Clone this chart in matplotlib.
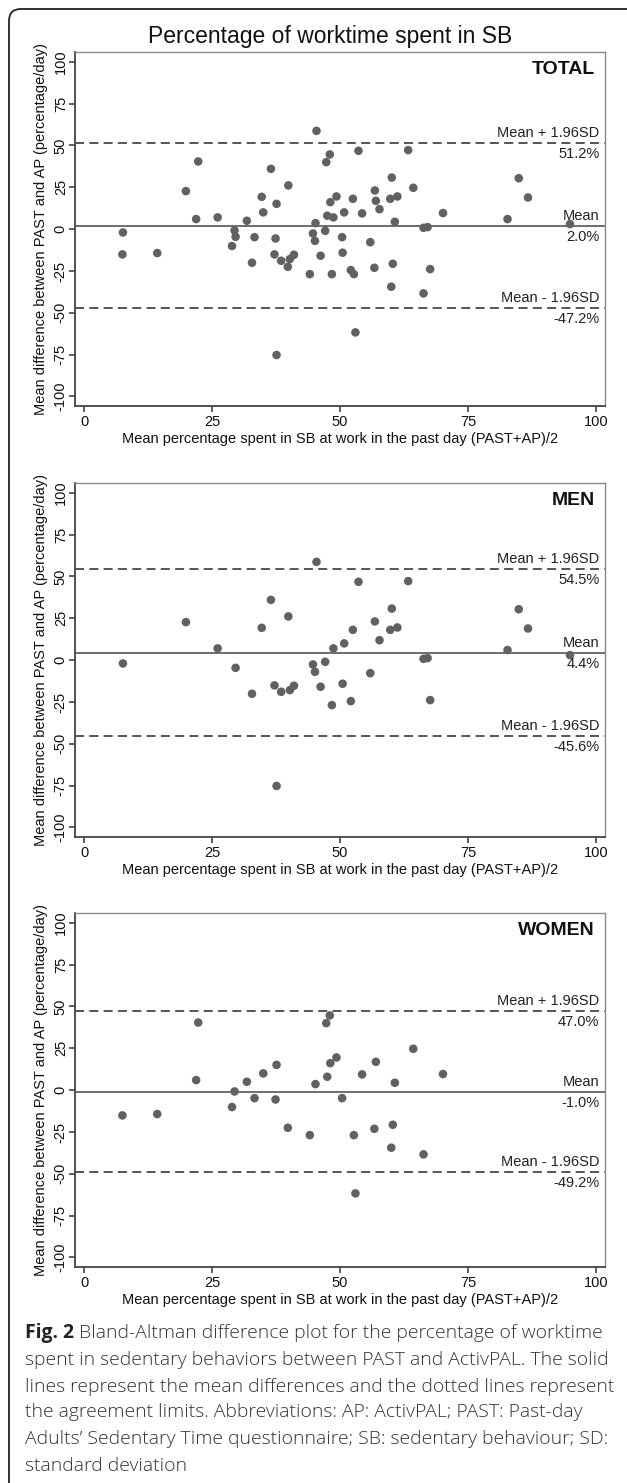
import numpy as np
import matplotlib
matplotlib.use("Agg")
import matplotlib.pyplot as plt
from matplotlib.patches import FancyBboxPatch
from matplotlib.transforms import IdentityTransform

# data: mean of (PAST+AP)/2 and difference PAST-AP
men_x = [45.4, 19.9, 26.1, 7.6, 29.6, 32.8, 34.7, 36.5, 39.9, 37.2, 38.5, 40.2, 41.0,
         37.6, 44.7, 45.1, 47.1, 46.2, 48.7, 48.4, 50.8, 50.5, 52.5, 53.6, 52.1, 55.9,
         56.8, 57.7, 60.1, 59.8, 61.2, 63.3, 66.3, 67.1, 67.6, 82.7, 84.9, 86.7, 94.9]
men_y = [58.7, 22.7, 7.0, -2.0, -4.6, -20.1, 19.3, 36.0, 26.1, -15.1, -18.9, -17.9, -15.3,
         -75.2, -2.6, -7.0, -1.0, -15.9, 7.0, -26.9, 10.0, -14.1, 18.1, 46.8, -24.5, -7.8,
         23.1, 11.9, 30.8, 18.1, 19.5, 47.2, 0.8, 1.2, -23.9, 6.0, 30.4, 18.9, 3.0]

women_x = [22.3, 48.0, 47.3, 21.9, 7.5, 14.3, 28.9, 29.4, 31.8, 33.3, 35.0, 37.6, 37.4,
           39.8, 44.1, 45.2, 47.5, 48.1, 49.3, 50.4, 52.7, 53.0, 54.3, 56.7, 57.0, 60.3,
           60.0, 60.7, 64.3, 66.3, 70.1]
women_y = [40.4, 44.6, 40.0, 6.0, -15.1, -14.3, -10.1, -0.8, 5.0, -4.8, 10.0, 15.1, -5.6,
           -22.5, -26.9, 3.6, 8.0, 16.1, 19.5, -4.8, -26.9, -61.7, 9.4, -23.1, 16.9, -20.7,
           -34.4, 4.4, 24.7, -38.4, 9.6]

groups = ["TOTAL", "MEN", "WOMEN"]
means = [2.0, 4.4, -1.0]
upper = [51.2, 54.5, 47.0]
lower = [-47.2, -45.6, -49.2]

xticks = [0, 25, 50, 75, 100]
yticks = [-100, -75, -50, -25, 0, 25, 50, 75, 100]

title = "Percentage of worktime spent in SB"
xlabel = "Mean percentage spent in SB at work in the past day (PAST+AP)/2"
ylabel = "Mean difference between PAST and AP (percentage/day)"

caption_bold = "Fig. 2"
caption_lines = [
    " Bland-Altman difference plot for the percentage of worktime",
    "spent in sedentary behaviors between PAST and ActivPAL. The solid",
    "lines represent the mean differences and the dotted lines represent",
    "the agreement limits. Abbreviations: AP: ActivPAL; PAST: Past-day",
    "Adults\u2019 Sedentary Time questionnaire; SB: sedentary behaviour; SD:",
    "standard deviation",
]

plt.rcParams['font.family'] = ['Liberation Sans', 'DejaVu Sans']
plt.rcParams['lines.scale_dashes'] = False

W, H = 627, 1483
fig = plt.figure(figsize=(W / 100, H / 100), dpi=100, facecolor='white')


def fx(px):
    return px / W


def fy(py):
    return 1 - py / H


# outer rounded frame in pixels (only top/left edges fall inside the picture)
frame = FancyBboxPatch((9, -60), 640, H - 9 + 60,
                       boxstyle="round,pad=0,rounding_size=12", transform=IdentityTransform(),
                       facecolor='none', edgecolor='#222222', lw=1.3, zorder=0)
fig.patches.append(frame)

fig.text(fx(330), fy(37), title, ha='center', va='center', fontsize=16.5, color='#111111')

data_x = [men_x + women_x, men_x, women_x]
data_y = [men_y + women_y, men_y, women_y]
tops = [51.7, 482.7, 912.7]
box_h = 354

for i, name in enumerate(groups):
    top = tops[i]
    ax = fig.add_axes([fx(74.8), fy(top + box_h), fx(604.8) - fx(74.8), box_h / H])
    ax.set_xlim(-1.8, 101.7)
    ax.set_ylim(-105.5, 106.0)

    ax.axhline(means[i], color='#6e6e6e', lw=1.4, zorder=1)
    for lim in (upper[i], lower[i]):
        ax.axhline(lim, color='#555555', lw=1.4, dashes=(6.5, 3.8), zorder=1)

    ax.scatter(data_x[i], data_y[i], s=38, color='#616161', edgecolors='none', zorder=3)

    # line labels
    lab_kw = dict(xycoords=('axes fraction', 'data'), textcoords='offset points',
                  ha='right', va='center', fontsize=10.5, color='#222222')
    ax.annotate('Mean + 1.96SD', (0.99, upper[i]), xytext=(0, 7.3), **lab_kw)
    ax.annotate('%.1f%%' % upper[i], (0.99, upper[i]), xytext=(0, -7.8), **lab_kw)
    ax.annotate('Mean', (0.99, means[i]), xytext=(0, 7.0), **lab_kw)
    ax.annotate('%.1f%%' % means[i], (0.99, means[i]), xytext=(0, -7.8), **lab_kw)
    ax.annotate('Mean - 1.96SD', (0.99, lower[i]), xytext=(0, 7.3), **lab_kw)
    ax.annotate('%.1f%%' % lower[i], (0.99, lower[i]), xytext=(0, -7.8), **lab_kw)

    ax.text(0.9815, 1 - 17.5 / box_h, name, transform=ax.transAxes, ha='right', va='center',
            fontsize=14, fontweight='bold', color='#111111')

    ax.set_xticks(xticks)
    ax.set_yticks(yticks)
    ax.set_yticklabels([str(t) for t in yticks], rotation=90, va='center')
    ax.tick_params(axis='both', direction='out', length=4, width=1.1, colors='#333333',
                   labelsize=10.5, labelcolor='#111111')
    ax.tick_params(axis='y', pad=1)
    ax.tick_params(axis='x', pad=3)

    for side in ('left', 'bottom'):
        ax.spines[side].set_color('#444444')
        ax.spines[side].set_linewidth(1.3)
    for side in ('top', 'right'):
        ax.spines[side].set_color('#8a8a8a')
        ax.spines[side].set_linewidth(1.0)

    fig.text(fx(41), fy(top + box_h / 2), ylabel, rotation=90, ha='center', va='center',
             fontsize=10.5, color='#111111')
    fig.text(fx(340), fy(top + box_h + 33), xlabel, ha='center', va='center',
             fontsize=10.5, color='#111111')

# caption, sized so that the first line spans the same width as in the figure
cap_font = ['Open Sans', 'DejaVu Sans']
cap_y = [1333.3, 1360, 1386.7, 1412.3, 1439.3, 1466]
cap_size = 14
t0 = fig.text(fx(25), fy(cap_y[0]), caption_bold, ha='left', va='center', fontsize=cap_size,
              fontweight='bold', family=cap_font, color='#222222')
t1 = fig.axes[0].annotate(caption_lines[0], xy=(1, 0.5), xycoords=t0, ha='left', va='center',
                          fontsize=cap_size, family=cap_font, fontweight='light',
                          color='#333333', annotation_clip=False)
rest = []
for line, yy in zip(caption_lines[1:], cap_y[1:]):
    rest.append(fig.text(fx(25), fy(yy), line, ha='left', va='center', fontsize=cap_size,
                         family=cap_font, fontweight='light', color='#333333'))

renderer = fig.canvas.get_renderer()
w0 = t0.get_window_extent(renderer).width + t1.get_window_extent(renderer).width
new_size = cap_size * 581.0 / w0
for t in [t0, t1] + rest:
    t.set_fontsize(new_size)

fig.savefig('out.png', dpi=100, facecolor='white')
